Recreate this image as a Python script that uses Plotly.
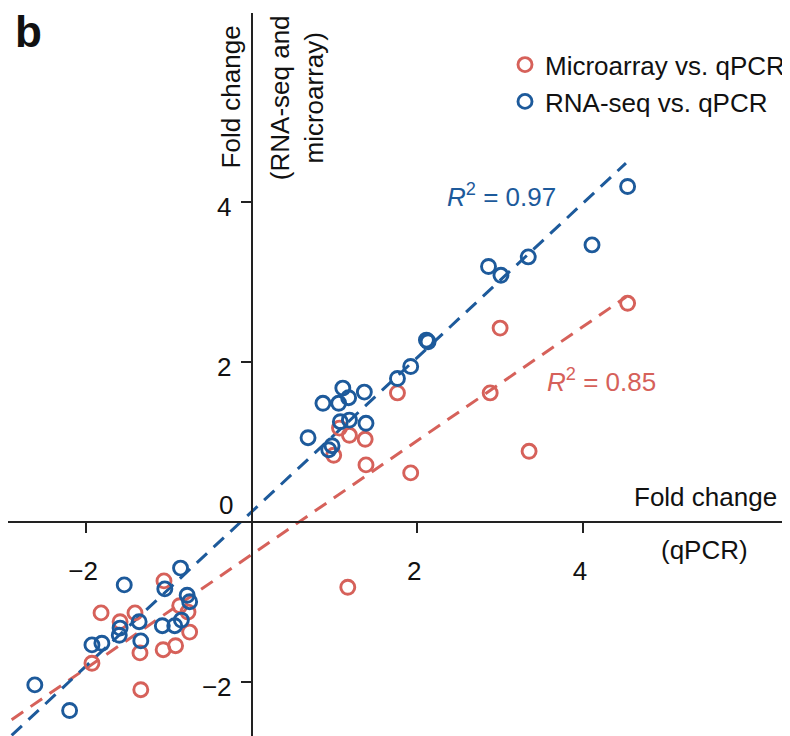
import plotly.graph_objects as go

# ---- data ----
rna_x = [4.54, 4.11, 3.34, 2.86, 3.01, 2.11, 2.13, 1.92, 1.76, 1.10, 1.36, 0.86, 1.05, 1.17,
         1.07, 1.18, 1.38, 0.68, 0.97, 0.93,
         -0.86, -1.54, -1.05, -0.78, -0.75, -1.36, -1.08, -0.93, -0.85, -1.59, -1.60, -1.34,
         -1.93, -1.81, -2.62, -2.20]
rna_y = [4.19, 3.46, 3.31, 3.19, 3.08, 2.27, 2.25, 1.94, 1.79, 1.67, 1.62, 1.48, 1.48, 1.55,
         1.25, 1.27, 1.23, 1.05, 0.95, 0.90,
         -0.58, -0.79, -0.84, -0.92, -1.00, -1.25, -1.30, -1.30, -1.23, -1.33, -1.42, -1.49,
         -1.54, -1.52, -2.04, -2.36]

micro_x = [4.54, 3.00, 2.88, 1.76, 3.35, 1.92, 1.06, 1.18, 1.37, 0.99, 1.38, 1.16,
           -1.06, -1.82, -1.41, -1.59, -0.87, -0.77, -0.75, -1.35, -1.07, -0.92, -1.93, -1.34]
micro_y = [2.73, 2.42, 1.61, 1.61, 0.88, 0.61, 1.17, 1.08, 1.03, 0.83, 0.71, -0.82,
           -0.74, -1.14, -1.14, -1.25, -1.05, -1.13, -1.38, -1.64, -1.60, -1.55, -1.77, -2.10]

fit_x = [-2.9, 4.52]
rna_fit = (0.964, 0.125)      # slope, intercept
micro_fit = (0.712, -0.41)

x_ticks = [-2, 2, 4]
y_ticks = [-2, 2, 4]
series_names = ["Microarray vs. qPCR", "RNA-seq vs. qPCR"]
r2_labels = ["0.85", "0.97"]

BLUE = "#1d5a9b"
RED = "#d6615a"
FONT = "Liberation Sans, Arial, Helvetica, sans-serif"
FS = 26

# the page body has an 8px margin: figure is sized to fit the 790x736 window exactly
W, H = 782, 728
ML, MR, MT, MB = 0, 0, 5, 0
X_RANGE = [-2.944, 6.441]
Y_RANGE = [-2.679, 6.359]

def paper_x(v):
    return (v - X_RANGE[0]) / (X_RANGE[1] - X_RANGE[0])

def paper_y(v):
    return (v - Y_RANGE[0]) / (Y_RANGE[1] - Y_RANGE[0])

fig = go.Figure()

# regression lines
for (m, b), col in [(micro_fit, RED), (rna_fit, BLUE)]:
    fig.add_trace(go.Scatter(
        x=fit_x, y=[m * v + b for v in fit_x], mode="lines",
        line=dict(color=col, width=3, dash="14px,9px"),
        showlegend=False, hoverinfo="skip"))

fig.add_trace(go.Scatter(
    x=micro_x, y=micro_y, mode="markers", name=series_names[0],
    marker=dict(symbol="circle-open", size=14, color=RED, line=dict(width=2.9, color=RED))))
fig.add_trace(go.Scatter(
    x=rna_x, y=rna_y, mode="markers", name=series_names[1],
    marker=dict(symbol="circle-open", size=14, color=BLUE, line=dict(width=2.9, color=BLUE))))

axis_common = dict(showgrid=False, zeroline=False, showline=True, linecolor="#222",
                   linewidth=2, ticks="outside", ticklen=10, tickwidth=2, tickcolor="#222",
                   tickfont=dict(family=FONT, size=FS, color="#111"))

fig.update_layout(
    width=W, height=H,
    margin=dict(l=ML, r=MR, t=MT, b=MB),
    paper_bgcolor="white", plot_bgcolor="white",
    font=dict(family=FONT, size=FS, color="#111"),
    xaxis=dict(range=X_RANGE, tickvals=x_ticks, anchor="free", position=paper_y(0),
               ticklabelstandoff=16, ticklabelshift=-3, **axis_common),
    yaxis=dict(range=Y_RANGE, tickvals=y_ticks, anchor="free", position=paper_x(0),
               ticklabelstandoff=4, ticklabelshift=5, **axis_common),
    legend=dict(x=0.640, y=0.961, xanchor="left", yanchor="top",
                font=dict(family=FONT, size=FS, color="#111"),
                bgcolor="rgba(0,0,0,0)", tracegroupgap=0, itemsizing="trace"),
    showlegend=True,
)

annotations = [
    dict(text="<b>b</b>", xref="paper", yref="paper", x=0.006, y=0.975,
         xanchor="left", yanchor="middle", font=dict(size=44, color="#111")),
    dict(text="0", x=0, y=0, xanchor="right", yanchor="middle", xshift=-17, yshift=17),
    dict(text="Fold change", x=6.37, y=0.31, xanchor="right", yanchor="middle"),
    dict(text="(qPCR)", x=5.47, y=-0.35, xanchor="center", yanchor="middle"),
    dict(text="Fold change", x=-0.256, y=5.31, textangle=-90, xanchor="center", yanchor="middle"),
    dict(text="(RNA-seq and<br>microarray)", x=0.54, y=5.30, textangle=-90,
         xanchor="center", yanchor="middle"),
    dict(text="<i>R</i><sup>2</sup> = " + r2_labels[1], x=3.02, y=4.08, xanchor="center",
         yanchor="middle", font=dict(color=BLUE)),
    dict(text="<i>R</i><sup>2</sup> = " + r2_labels[0], x=4.23, y=1.77, xanchor="center",
         yanchor="middle", font=dict(color=RED)),
]
for a in annotations:
    a.setdefault("showarrow", False)
    f = a.setdefault("font", {})
    f.setdefault("family", FONT)
    f.setdefault("size", FS)
    f.setdefault("color", "#111")
    fig.add_annotation(**a)

fig.write_html("out.html")
